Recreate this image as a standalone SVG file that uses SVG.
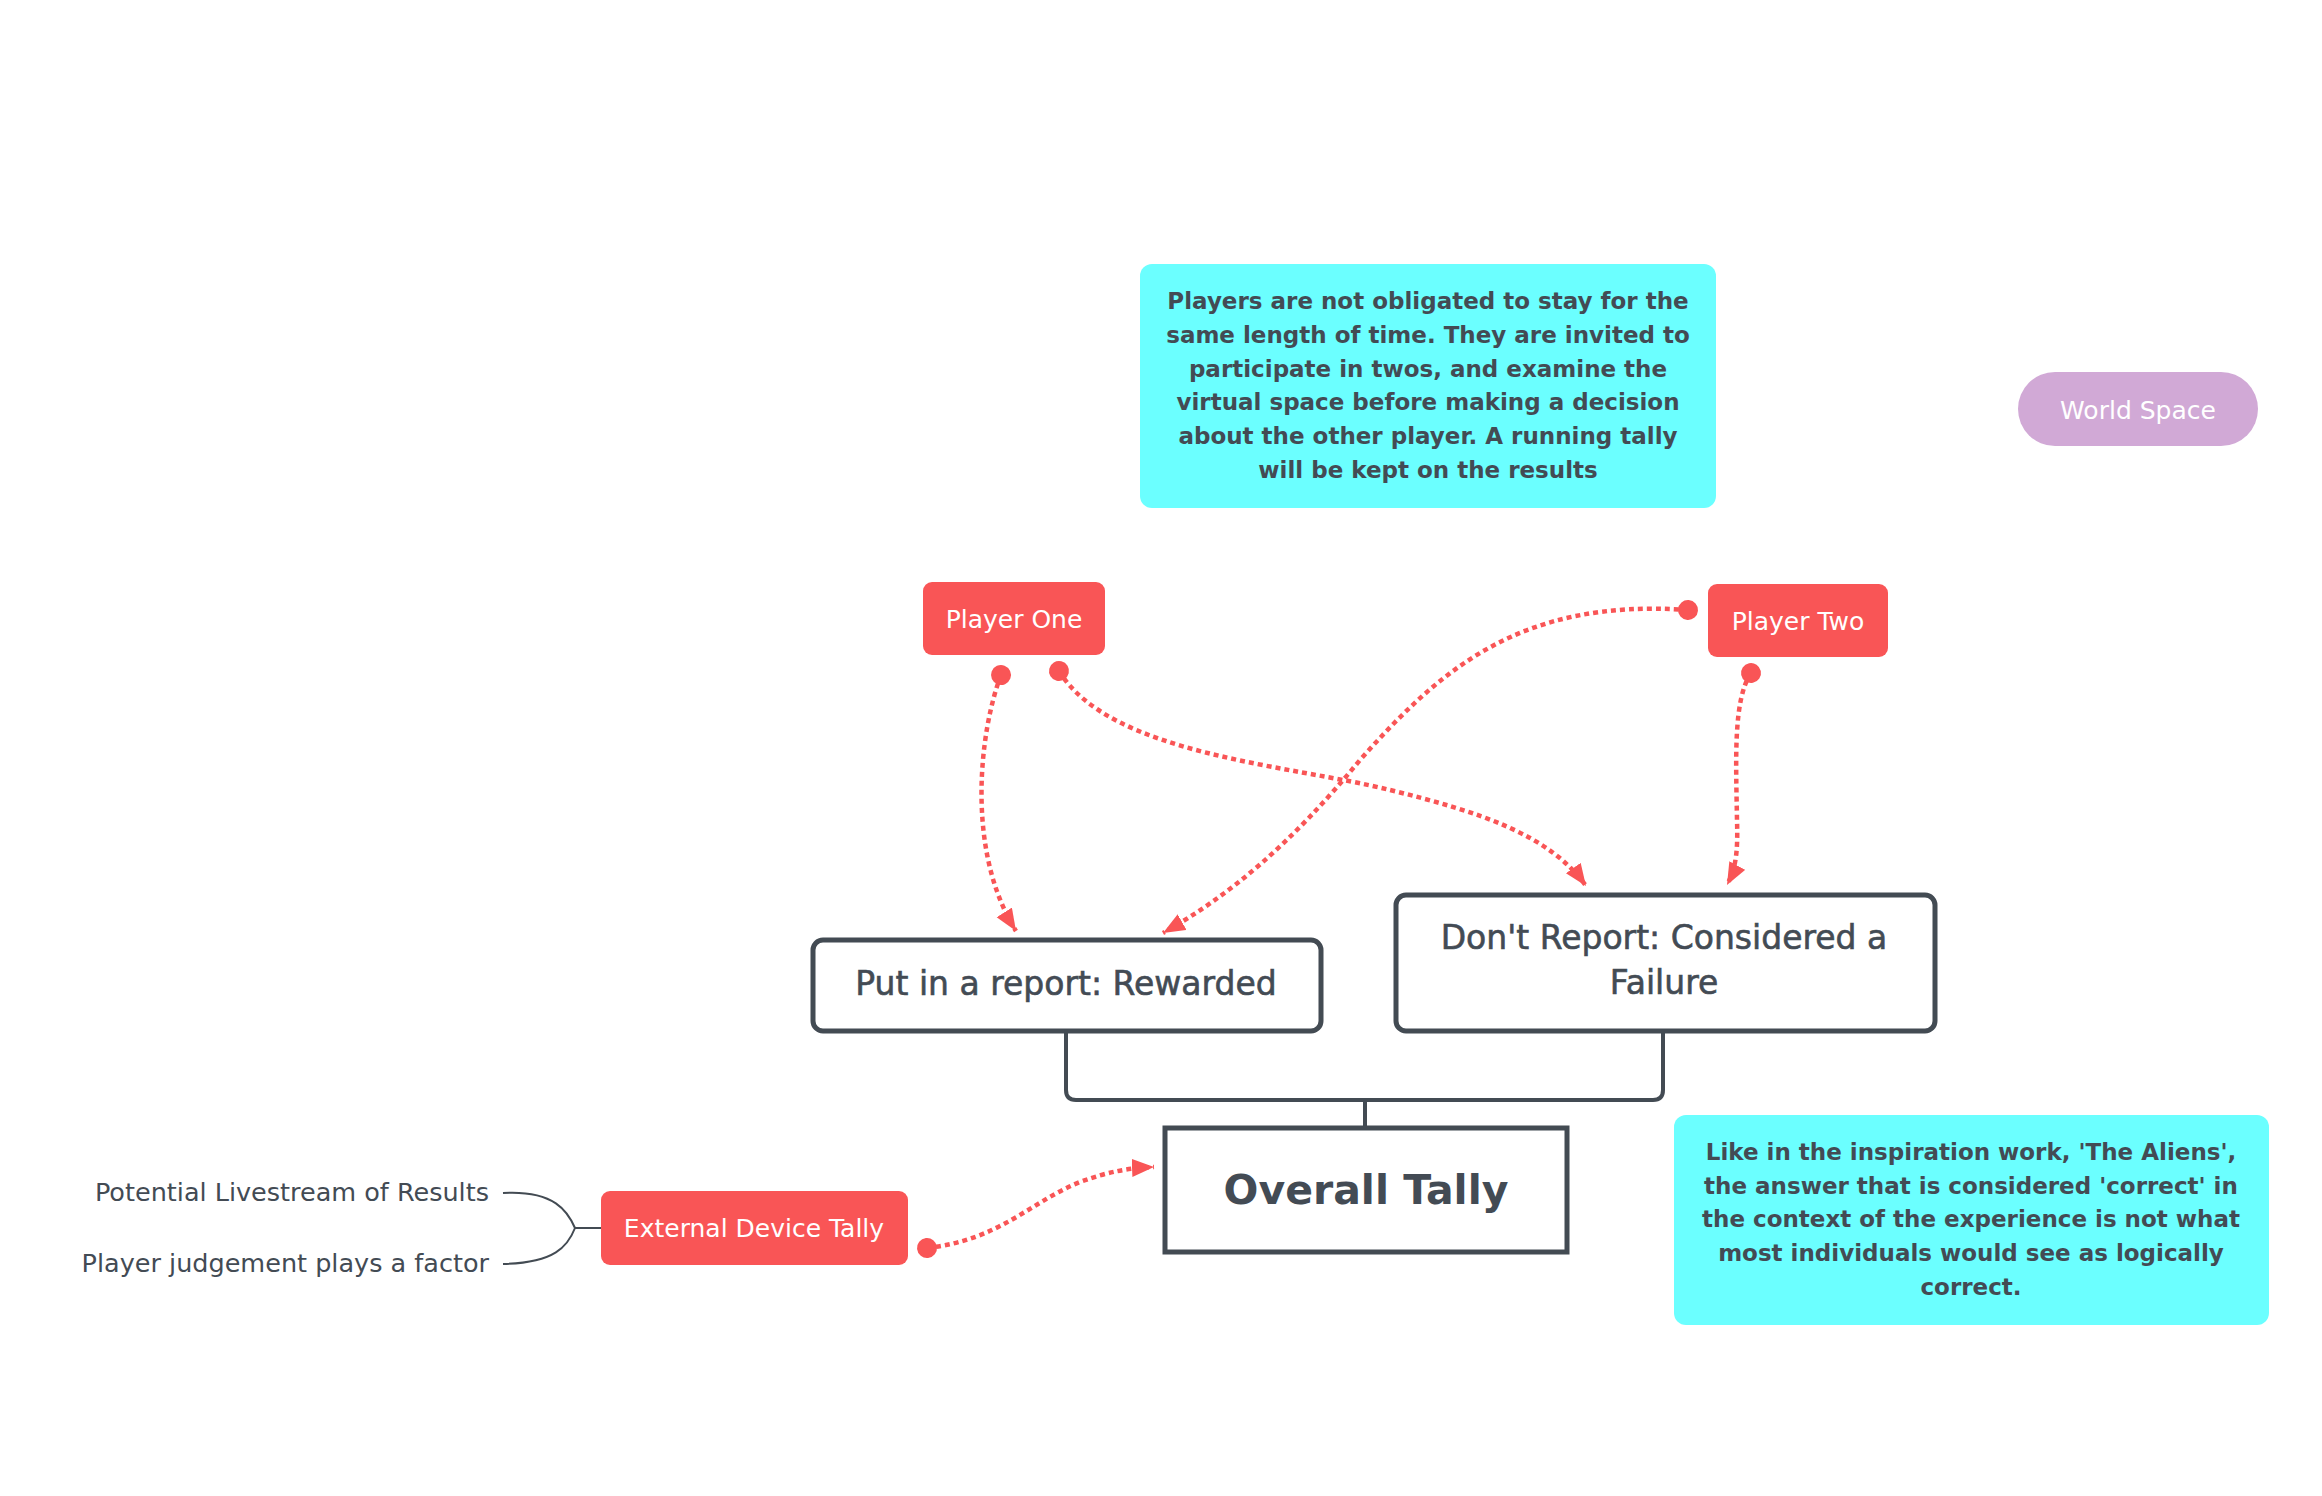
<svg xmlns="http://www.w3.org/2000/svg" width="2322" height="1496" viewBox="0 0 2322 1496">
<style>
.txt{font-family:"DejaVu Sans","Liberation Sans",sans-serif;fill:#434b54}
.med{stroke:#434b54;stroke-width:0.6}
.note{font-family:"DejaVu Sans","Liberation Sans",sans-serif;font-weight:bold;font-size:23px;fill:#434b54;text-anchor:middle}
.red{fill:#f95556}
.wt{font-family:"DejaVu Sans","Liberation Sans",sans-serif;fill:#ffffff;text-anchor:middle;font-size:25px}
.box{fill:#ffffff;stroke:#434b53;stroke-width:5}
.dot{fill:none;stroke:#f95556;stroke-width:4.5;stroke-dasharray:5 4}
.tree{fill:none;stroke:#434b53;stroke-width:4}
.thin{fill:none;stroke:#434b53;stroke-width:2}
</style>
<defs>
<marker id="arr" markerUnits="userSpaceOnUse" markerWidth="24" markerHeight="20" refX="22" refY="9" orient="auto">
<path d="M0,0 L22,9 L0,18 z" fill="#f95556"/>
</marker>
<marker id="dotm" markerUnits="userSpaceOnUse" markerWidth="24" markerHeight="24" refX="12" refY="12" orient="auto">
<circle cx="12" cy="12" r="10" fill="#f95556"/>
</marker>
</defs>
<rect width="2322" height="1496" fill="#ffffff"/>

<g id="connectors">
<path class="tree" d="M1066,1033 V1090 Q1066,1100 1076,1100 H1653 Q1663,1100 1663,1090 V1033"/>
<path class="tree" d="M1365,1100 V1127"/>
<path class="thin" d="M503,1193 C555,1190 568,1212 575,1228 C568,1246 555,1263 503,1264 M575,1228 H601"/>
<path class="dot" marker-start="url(#dotm)" marker-end="url(#arr)" d="M1001,675 C980,730 965,850 1016,931"/>
<path class="dot" marker-start="url(#dotm)" marker-end="url(#arr)" d="M1059,671 C1110,755 1290,765 1390,790 C1480,812 1550,835 1586,886"/>
<path class="dot" marker-start="url(#dotm)" marker-end="url(#arr)" d="M1688,610 C1520,598 1440,670 1360,760 C1290,845 1230,895 1163,933"/>
<path class="dot" marker-start="url(#dotm)" marker-end="url(#arr)" d="M1751,673 C1733,700 1736,760 1737,820 C1738,852 1736,868 1727,885"/>
<path class="dot" marker-start="url(#dotm)" marker-end="url(#arr)" d="M927,1248 C1000,1240 1030,1202 1080,1182 C1110,1171 1130,1168 1154,1167"/>
</g>

<g id="note-top">
<rect x="1140" y="264" width="576" height="244" rx="12" fill="#6bffff"/>
<text class="note" x="1428"><tspan x="1428" y="309">Players are not obligated to stay for the</tspan><tspan x="1428" y="343">same length of time. They are invited to</tspan><tspan x="1428" y="377">participate in twos, and examine the</tspan><tspan x="1428" y="410">virtual space before making a decision</tspan><tspan x="1428" y="444">about the other player. A running tally</tspan><tspan x="1428" y="478">will be kept on the results</tspan></text>
</g>

<g id="world-space">
<rect x="2018" y="372" width="240" height="74" rx="37" fill="#d1a9d6"/>
<text class="wt" x="2138" y="419" font-size="27">World Space</text>
</g>

<g id="player-one">
<rect class="red" x="923" y="582" width="182" height="73" rx="9"/>
<text class="wt" x="1014" y="628">Player One</text>
</g>

<g id="player-two">
<rect class="red" x="1708" y="584" width="180" height="73" rx="9"/>
<text class="wt" x="1798" y="630">Player Two</text>
</g>

<g id="report">
<rect class="box" x="813" y="940" width="508" height="91" rx="10"/>
<text class="txt med" x="1066" y="995" font-size="33" text-anchor="middle">Put in a report: Rewarded</text>
</g>

<g id="dont-report">
<rect class="box" x="1396" y="895" width="539" height="136" rx="10"/>
<text class="txt med" font-size="33" text-anchor="middle"><tspan x="1664" y="949">Don't Report: Considered a</tspan><tspan x="1664" y="994">Failure</tspan></text>
</g>

<g id="overall-tally">
<rect class="box" x="1165" y="1128" width="402" height="124" stroke-width="6"/>
<text class="txt" x="1366" y="1204" font-size="41" font-weight="bold" text-anchor="middle">Overall Tally</text>
</g>

<g id="external-device">
<rect class="red" x="601" y="1191" width="307" height="74" rx="9"/>
<text class="wt" x="754" y="1237">External Device Tally</text>
</g>

<g id="livestream">
<text class="txt" x="489" y="1201" font-size="25.5" text-anchor="end">Potential Livestream of Results</text>
</g>
<g id="judgement">
<text class="txt" x="489" y="1272" font-size="25.5" text-anchor="end">Player judgement plays a factor</text>
</g>

<g id="note-bottom">
<rect x="1674" y="1115" width="595" height="210" rx="12" fill="#6bffff"/>
<text class="note"><tspan x="1971" y="1160">Like in the inspiration work, 'The Aliens',</tspan><tspan x="1971" y="1194">the answer that is considered 'correct' in</tspan><tspan x="1971" y="1227">the context of the experience is not what</tspan><tspan x="1971" y="1261">most individuals would see as logically</tspan><tspan x="1971" y="1295">correct.</tspan></text>
</g>
</svg>
